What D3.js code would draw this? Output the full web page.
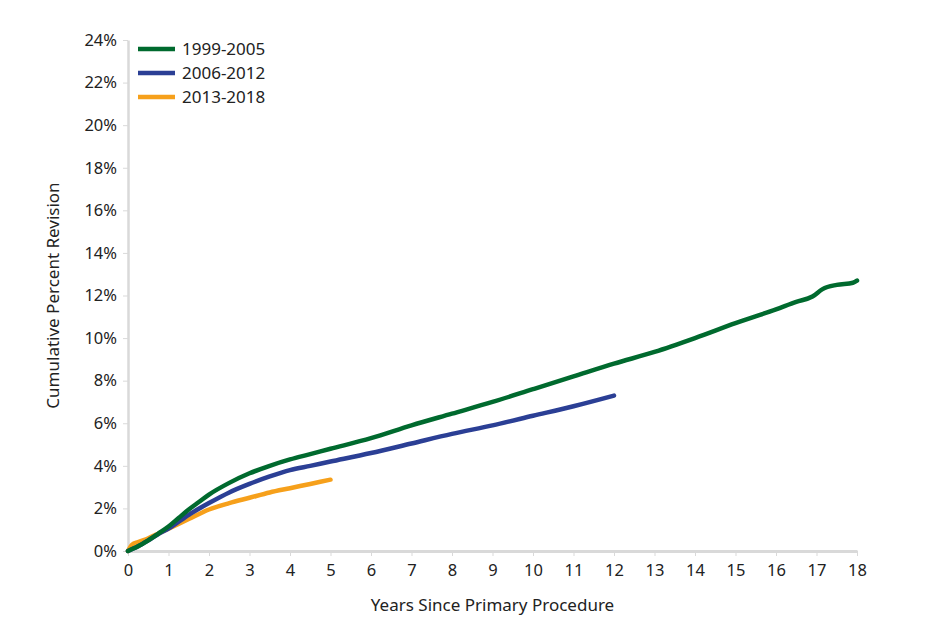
<!DOCTYPE html>
<html>
<head>
<meta charset="utf-8">
<script src="https://cdn.jsdelivr.net/npm/d3@7"></script>
<style>
  body { margin: 0; background: #fff; }
  text { font-family: "Noto Sans", "Open Sans", sans-serif; fill: #222; }
  .axis path, .axis line { stroke: #d9d9d9; }
  .axis text { font-size: 16.5px; fill: #222; }
</style>
</head>
<body>
<script>
// Series (years, cumulative percent)
var years_9905 = [0, 0.25, 0.5, 0.75, 1, 1.25, 1.5, 1.75, 2, 2.5, 3, 3.5, 4, 4.5, 5, 6, 7, 8, 9, 10, 11, 12, 13, 14, 15, 16, 16.5, 16.9, 17.15, 17.5, 17.9, 18];
var pct_9905 = [0, 0.22, 0.5, 0.82, 1.15, 1.55, 1.95, 2.3, 2.65, 3.2, 3.65, 4.0, 4.3, 4.55, 4.8, 5.3, 5.9, 6.45, 7.0, 7.6, 8.2, 8.8, 9.35, 10.0, 10.7, 11.35, 11.7, 11.95, 12.3, 12.5, 12.6, 12.7];

var years_0612 = [0, 0.25, 0.5, 0.75, 1, 1.5, 2, 2.5, 3, 3.5, 4, 4.5, 5, 6, 7, 8, 9, 10, 11, 12];
var pct_0612 = [0, 0.22, 0.5, 0.8, 1.05, 1.7, 2.25, 2.75, 3.15, 3.5, 3.8, 4.0, 4.2, 4.6, 5.05, 5.5, 5.9, 6.35, 6.8, 7.3];

var years_1318 = [0, 0.1, 0.25, 0.5, 0.75, 1, 1.5, 2, 2.5, 3, 3.5, 4, 4.5, 5];
var pct_1318 = [0, 0.3, 0.42, 0.6, 0.82, 1.05, 1.5, 1.95, 2.25, 2.5, 2.75, 2.95, 3.15, 3.35];

var series_names = ["1999-2005", "2006-2012", "2013-2018"];
var series_colors = ["#006a2e", "#2b3f95", "#f6a01b"];
var x_ticks = d3.range(0, 19);
var y_ticks = [0, 2, 4, 6, 8, 10, 12, 14, 16, 18, 20, 22, 24];

var series = [
  { name: series_names[0], color: series_colors[0], values: years_9905.map(function (d, i) { return { x: d, y: pct_9905[i] }; }) },
  { name: series_names[1], color: series_colors[1], values: years_0612.map(function (d, i) { return { x: d, y: pct_0612[i] }; }) },
  { name: series_names[2], color: series_colors[2], values: years_1318.map(function (d, i) { return { x: d, y: pct_1318[i] }; }) }
];

// Define margins
var margin = { top: 40, right: 83, bottom: 88, left: 128 };
var outer_width = 940;
var outer_height = 639;
var width = outer_width - margin.left - margin.right;
var height = outer_height - margin.top - margin.bottom;

var svg = d3.select("body")
    .append("svg")
    .attr("width", outer_width)
    .attr("height", outer_height)
    .append("g")
    .attr("transform", "translate(" + margin.left + "," + margin.top + ")");

var xScale = d3.scaleLinear().domain([0, 18]).range([0, width]);
var yScale = d3.scaleLinear().domain([0, 24]).range([height, 0]);

var xAxis = d3.axisBottom(xScale)
    .tickValues(x_ticks)
    .tickSize(5)
    .tickSizeOuter(0)
    .tickPadding(8)
    .tickFormat(d3.format("d"));

var yAxis = d3.axisLeft(yScale)
    .tickValues(y_ticks)
    .tickSize(5)
    .tickSizeOuter(0)
    .tickPadding(6)
    .tickFormat(function (d) { return d + "%"; });

var gy = svg.append("g")
    .attr("class", "axis")
    .call(yAxis);
gy.select(".domain").attr("stroke-width", 2.5);

var gx = svg.append("g")
    .attr("class", "axis")
    .attr("transform", "translate(0," + height + ")")
    .call(xAxis);
gx.select(".domain").attr("stroke-width", 3);

// lines
var line = d3.line()
    .x(function (d) { return xScale(d.x); })
    .y(function (d) { return yScale(d.y); })
    .curve(d3.curveMonotoneX);

svg.selectAll(".series")
    .data(series.slice().reverse())
    .enter()
    .append("path")
    .attr("class", "series")
    .attr("fill", "none")
    .attr("stroke", function (d) { return d.color; })
    .attr("stroke-width", 4.5)
    .attr("stroke-linecap", "round")
    .attr("d", function (d) { return line(d.values); });

// axis titles
svg.append("text")
    .attr("x", width / 2)
    .attr("y", height + 60)
    .style("text-anchor", "middle")
    .style("font-size", "17px")
    .text("Years Since Primary Procedure");

svg.append("text")
    .attr("transform", "rotate(-90)")
    .attr("x", -height / 2)
    .attr("y", -69)
    .style("text-anchor", "middle")
    .style("font-size", "17px")
    .text("Cumulative Percent Revision");

// legend
var legend = svg.selectAll(".legend")
    .data(series)
    .enter()
    .append("g")
    .attr("class", "legend")
    .attr("transform", function (d, i) { return "translate(10," + (9 + i * 24) + ")"; });

legend.append("line")
    .attr("x1", 0)
    .attr("x2", 37)
    .attr("stroke", function (d) { return d.color; })
    .attr("stroke-width", 4.5);

legend.append("text")
    .attr("x", 44)
    .attr("dy", "0.35em")
    .style("font-size", "17px")
    .text(function (d) { return d.name; });
</script>
</body>
</html>
